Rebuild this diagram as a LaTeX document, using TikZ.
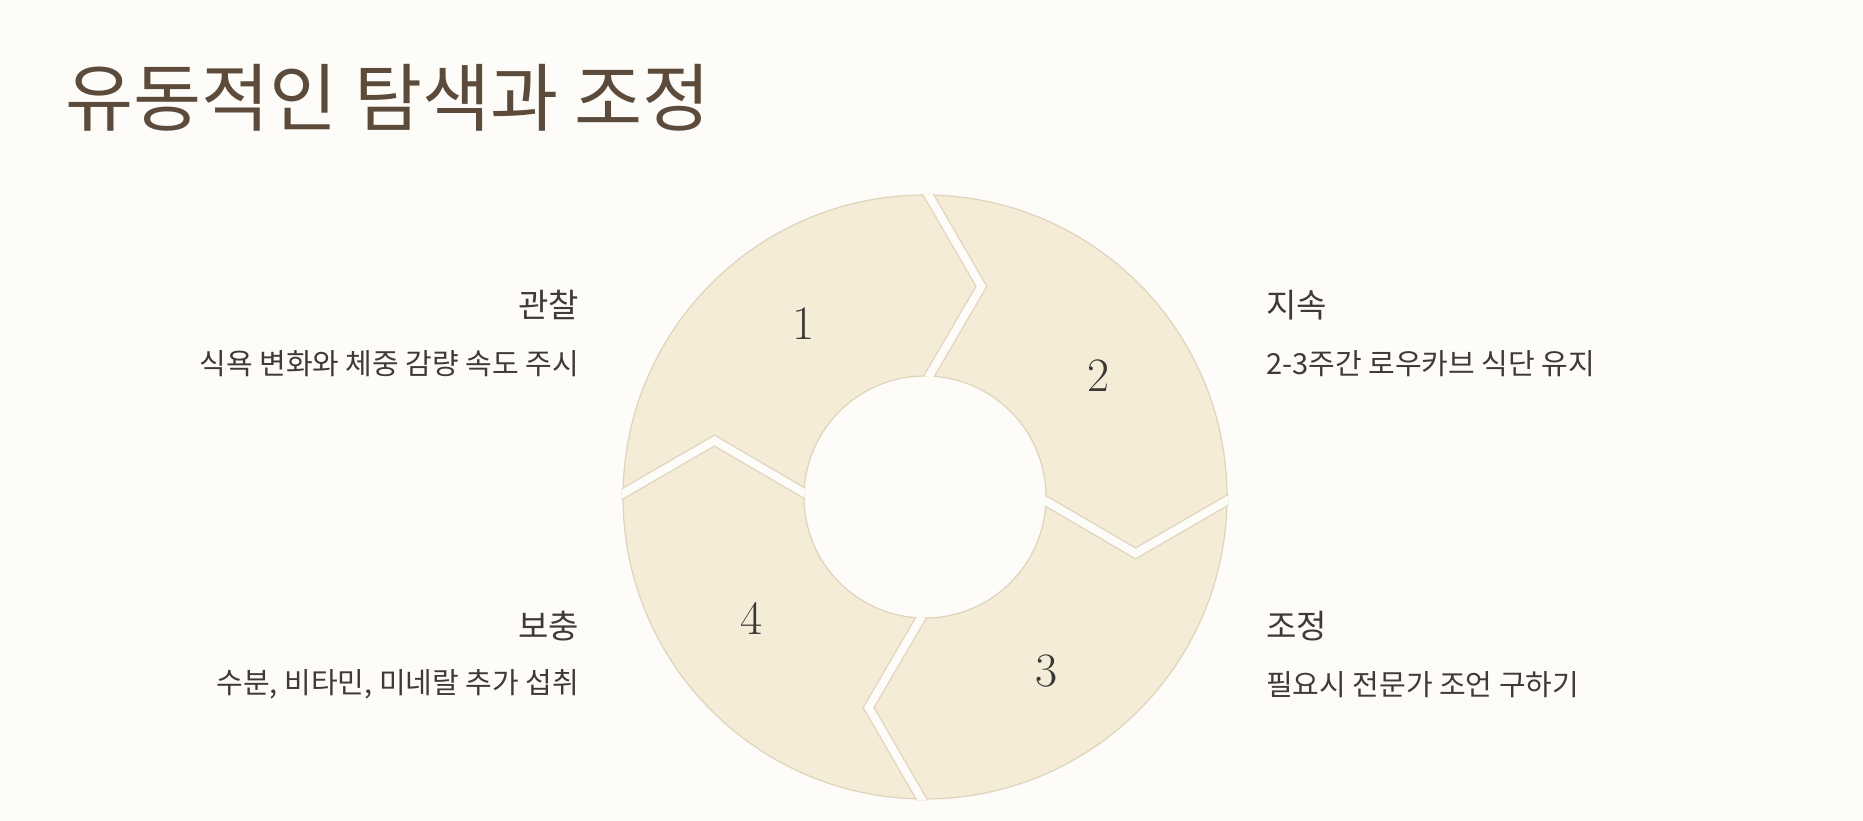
\documentclass[tikz,border=0pt]{standalone}
\usepackage{fontspec}
\usepackage{tikz}
\newfontfamily\krfont{Noto Sans CJK KR}
\definecolor{pagebg}{HTML}{FDFCF9}
\definecolor{ringfill}{HTML}{F5ECD8}
\definecolor{ringline}{HTML}{DFD4BB}
\definecolor{titlebrown}{HTML}{5C4B3B}
\definecolor{textgrey}{HTML}{3E3A35}
\definecolor{numgrey}{HTML}{3A3835}
\tikzset{
  cutedge/.style={draw=ringline, line width=10.6pt, line join=miter},
  cutgap/.style={draw=pagebg, line width=8pt, line join=miter},
  numtext/.style={inner sep=0pt, text=numgrey, font=\fontsize{48}{48}\selectfont},
  headtext/.style={inner sep=0pt, text=textgrey, font=\krfont\fontsize{33}{33}\selectfont},
  desctext/.style={inner sep=0pt, text=textgrey, font=\krfont\fontsize{29}{29}\selectfont}
}
\newcommand{\ringcut}[1] {\draw [cutedge] (#1:308) -- (#1-15:218) -- (#1:114); \draw [cutgap] (#1:308) -- (#1-15:218) -- (#1:114);}
\newcommand{\ringnumber}[3] {\node at (#1:212) (#2) [numtext] {#3};}

\begin{document}
\begin{tikzpicture}[x=1pt,y=1pt]
\fill [pagebg] (0,0) rectangle (1863,821);
\useasboundingbox (0,0) rectangle (1863,821);

\node at (65,723.5) (title) [anchor=west, inner sep=0pt, text=titlebrown, font=\krfont\fontsize{74}{74}\selectfont] {유동적인 탐색과 조정};

\begin{scope}[shift={(925,324)}]
\fill [ringfill, even odd rule] (0,0) circle [radius=302] (0,0) circle [radius=121];
\draw [ringline, line width=1.2pt] (0,0) circle [radius=302];
\draw [ringline, line width=1.2pt] (0,0) circle [radius=121];
\begin{scope}[even odd rule]
\clip (0,0) circle [radius=303.5] (0,0) circle [radius=120.3];
\ringcut{90};
\ringcut{0};
\ringcut{-90};
\ringcut{180};
\end{scope}
\ringnumber{125} {n1} {1};
\ringnumber{35} {n2} {2};
\ringnumber{-55} {n3} {3};
\ringnumber{215} {n4} {4};
\end{scope}

% left side
\node at (579,516) (observe) [headtext, anchor=east] {관찰};
\node at (579,457.5) (observetext) [desctext, anchor=east] {식욕 변화와 체중 감량 속도 주시};
\node at (579,195) (supply) [headtext, anchor=east] {보충};
\node at (579,136.5) (supplytext) [desctext, anchor=east] {수분, 비타민, 미네랄 추가 섭취};

% right side
\node at (1266,516) (keep) [headtext, anchor=west] {지속};
\node at (1266,457.5) (keeptext) [desctext, anchor=west] {2-3주간 로우카브 식단 유지};
\node at (1266,195) (adjust) [headtext, anchor=west] {조정};
\node at (1266,136.5) (adjusttext) [desctext, anchor=west] {필요시 전문가 조언 구하기};
\end{tikzpicture}
\end{document}
